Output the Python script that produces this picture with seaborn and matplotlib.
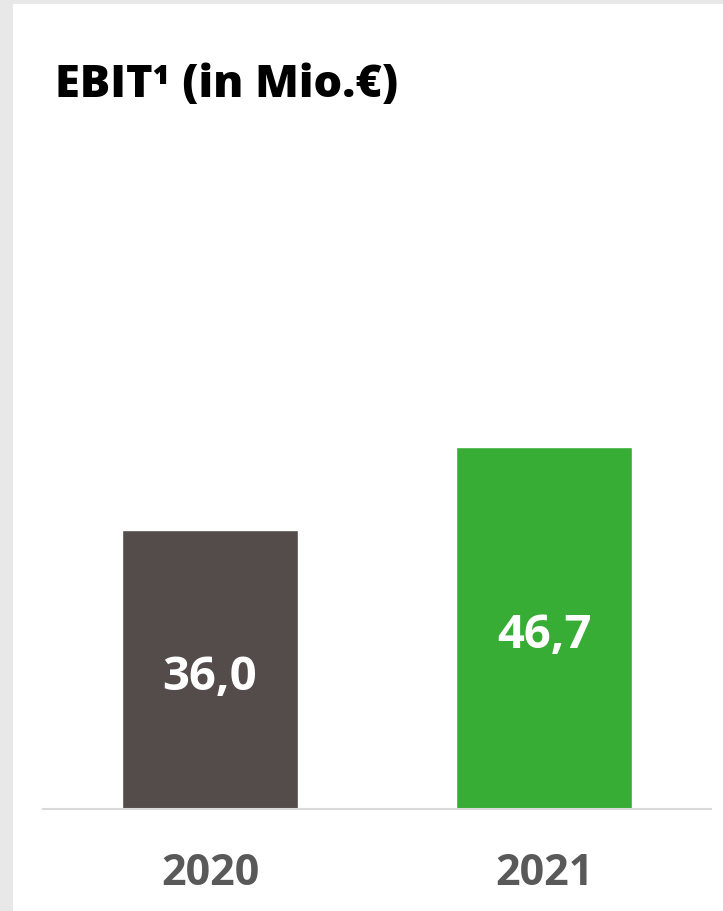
import matplotlib
matplotlib.use("Agg")
import matplotlib.pyplot as plt
import seaborn as sns
import pandas as pd
from matplotlib.patches import Rectangle

years = ["2020", "2021"]
values = [36.0, 46.7]
labels = ["36,0", "46,7"]
colors = ["#544b4b", "#37ad35"]
title = "EBIT¹ (in Mio.€)"

sns.set_theme(style="white")
plt.rcParams["font.family"] = ["Open Sans", "DejaVu Sans"]

W, H = 723, 912
fig = plt.figure(figsize=(W / 100, H / 100), dpi=100)
fig.patch.set_facecolor("#e8e8e8")
fig.add_artist(Rectangle((13 / W, 0), 1 - 13 / W, 1 - 5 / H, transform=fig.transFigure,
                         facecolor="white", edgecolor="none", zorder=0))

ax_left, ax_right = 43, 711
ax_bottom, ax_top = 810, 130
ax = fig.add_axes([ax_left / W, 1 - ax_bottom / H, (ax_right - ax_left) / W, (ax_bottom - ax_top) / H])
ax.set_facecolor("none")

df = pd.DataFrame({"year": years, "value": values})
sns.barplot(data=df, x="year", y="value", hue="year", palette=colors, width=0.527,
            legend=False, ax=ax, saturation=1)

ax.set_ylim(0, 36.0 * (ax_bottom - ax_top) / 279)
ax.set_xlim(-0.5, 1.5)
ax.set_xlabel("")
ax.set_ylabel("")
ax.set_yticks([])
for s in ["left", "right", "top"]:
    ax.spines[s].set_visible(False)
ax.spines["bottom"].set_color("#d9d9d9")
ax.spines["bottom"].set_linewidth(1.5)
ax.tick_params(axis="x", length=0, pad=30, labelsize=31, labelcolor="#595959")
for t in ax.get_xticklabels():
    t.set_fontweight("bold")

for i, (v, lab) in enumerate(zip(values, labels)):
    ax.annotate(lab, xy=(i, v / 2), xytext=(0, -5), textcoords="offset points",
                ha="center", va="center", color="white", fontsize=34, fontweight="bold")

fig.text(55 / W, 1 - 97 / H, title, ha="left", va="baseline", fontsize=32.5,
         fontweight="heavy", color="black")

fig.savefig("out.png", dpi=100)
